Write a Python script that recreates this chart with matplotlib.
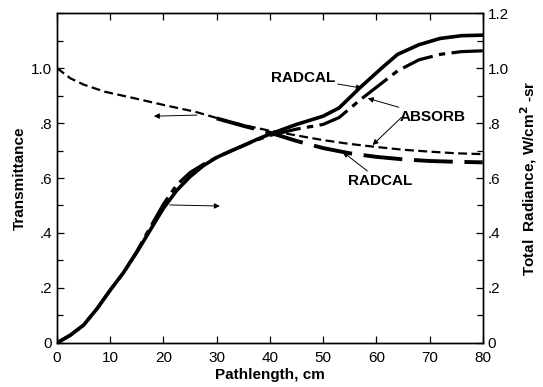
import matplotlib
matplotlib.use("Agg")
import matplotlib.pyplot as plt
from matplotlib.ticker import MultipleLocator

plt.rcParams['font.family'] = ['Liberation Sans', 'DejaVu Sans']

# transmittance (left axis)
path_t = [0, 2.5, 5, 9, 14.6, 20, 26, 31.5, 35, 40, 45, 50, 55, 60, 65, 70, 75, 80]
trans_absorb = [1.0, 0.963, 0.94, 0.914, 0.89, 0.866, 0.841, 0.81, 0.793, 0.772,
                0.755, 0.738, 0.724, 0.713, 0.703, 0.696, 0.69, 0.687]
path_tr = [30, 35, 40, 45, 50, 55, 60, 65, 70, 75, 80]
trans_radcal = [0.817, 0.79, 0.765, 0.735, 0.709, 0.69, 0.677, 0.668, 0.662, 0.659, 0.657]

# total radiance (right axis)
path_r = [0, 2.5, 5, 7.5, 10, 12.5, 15, 17.5, 20, 22.5, 25, 27.5, 30, 32.5, 35, 37.5,
          40, 45, 50, 53, 57, 61, 64, 68, 72, 76, 80]
rad_radcal = [0, 0.028, 0.065, 0.124, 0.192, 0.256, 0.33, 0.41, 0.49, 0.555, 0.605, 0.645,
              0.675, 0.697, 0.718, 0.74, 0.76, 0.795, 0.825, 0.855, 0.93, 1.0, 1.05,
              1.085, 1.108, 1.118, 1.12]
rad_absorb = [0, 0.028, 0.065, 0.124, 0.192, 0.256, 0.333, 0.42, 0.505, 0.575, 0.62, 0.65,
              0.675, 0.697, 0.718, 0.738, 0.755, 0.778, 0.795, 0.82, 0.885, 0.945, 0.99,
              1.03, 1.05, 1.06, 1.063]

xticks = [0, 10, 20, 30, 40, 50, 60, 70, 80]
left_ticks = [0, 0.2, 0.4, 0.6, 0.8, 1.0]
left_labels = ['0', '.2', '.4', '.6', '.8', '1.0']
right_ticks = [0, 0.2, 0.4, 0.6, 0.8, 1.0, 1.2]
right_labels = ['0', '.2', '.4', '.6', '.8', '1.0', '1.2']

fig = plt.figure(figsize=(5.43, 3.87), dpi=100)
ax = fig.add_axes([0.105, 0.114, 0.784, 0.852])
ax2 = ax.twinx()

ax.plot(path_t, trans_absorb, color='black', lw=1.6, dashes=(4, 2))
ax.plot(path_tr, trans_radcal, color='black', lw=2.8, dashes=(10, 3))
ax2.plot(path_r, rad_radcal, color='black', lw=2.6)
ax2.plot(path_r, rad_absorb, color='black', lw=2.3, dashes=(10, 2, 2, 2))

for a in (ax, ax2):
    a.set_xlim(0, 80)
    a.set_ylim(0, 1.2)
    a.tick_params(direction='in', labelsize=11, length=5, width=0.9)
    a.tick_params(which='minor', direction='in', length=4, width=0.9)
    a.yaxis.set_minor_locator(MultipleLocator(0.1))
    for s in a.spines.values():
        s.set_linewidth(1.0)

ax.set_xticks(xticks)
ax.tick_params(axis='x', top=True, pad=6)
ax.set_yticks(left_ticks)
ax.set_yticklabels(left_labels)
ax2.set_yticks(right_ticks)
ax2.set_yticklabels(right_labels)

ax.set_xlabel('Pathlength, cm', fontsize=11, fontweight='bold', labelpad=2)
ax.set_ylabel('Transmittance', fontsize=11, fontweight='bold', labelpad=3)
ax2.set_ylabel('Total  Radiance, W/cm$^{\\mathbf{2}}$ -sr', fontsize=11,
               fontweight='bold', labelpad=7)

arrow = dict(arrowstyle='-|>', color='black', lw=0.7, mutation_scale=8,
             shrinkA=0, shrinkB=0)
txt = dict(fontsize=11, fontweight='bold', ha='center', va='center')

ax.annotate('RADCAL', xy=(57.3, 0.927), xytext=(46.2, 0.964), arrowprops=arrow, **txt)
ax.annotate('ABSORB', xy=(58.4, 0.89), xytext=(70.6, 0.822), arrowprops=arrow, **txt)
ax.annotate('', xy=(59.3, 0.72), xytext=(64.8, 0.822), arrowprops=arrow)
ax.annotate('RADCAL', xy=(53.7, 0.695), xytext=(60.7, 0.59), arrowprops=arrow, **txt)
ax.annotate('', xy=(18.2, 0.825), xytext=(26.3, 0.829), arrowprops=arrow)
ax.annotate('', xy=(30.6, 0.498), xytext=(21.2, 0.502), arrowprops=arrow)

fig.savefig('out.png', dpi=100)
